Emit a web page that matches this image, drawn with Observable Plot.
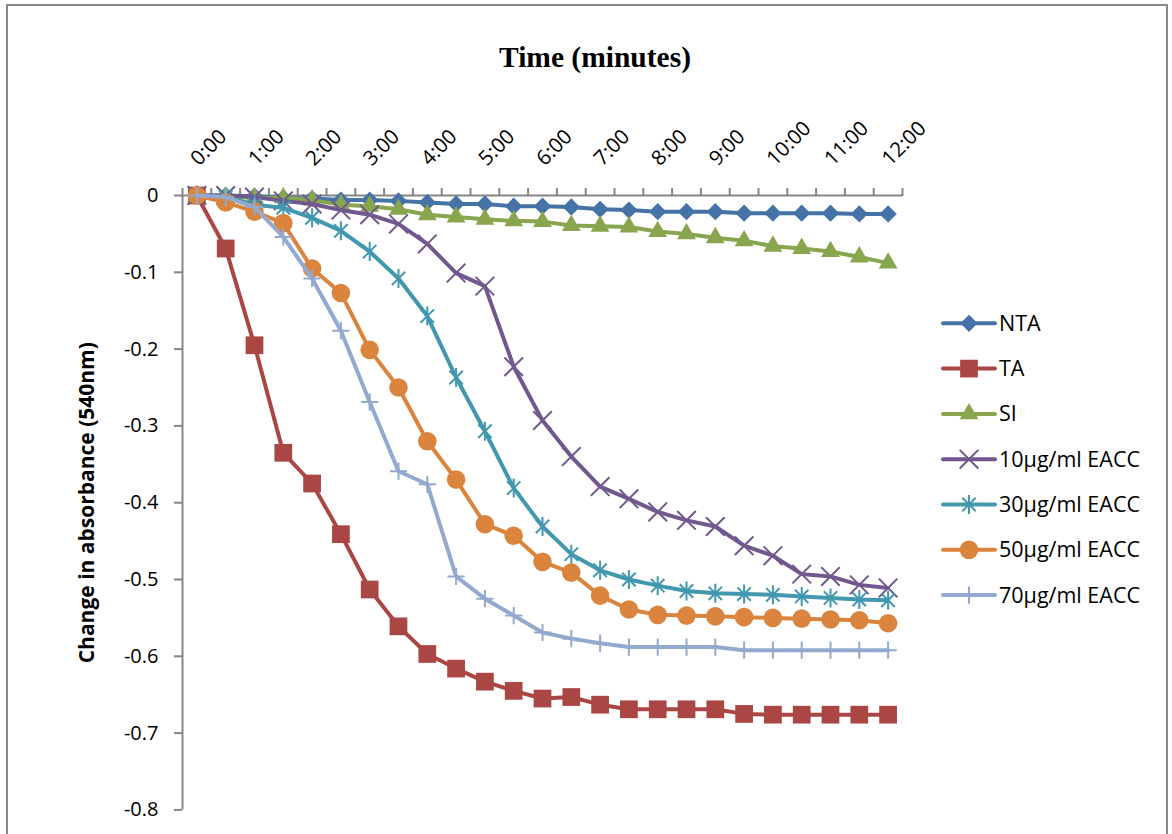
<!DOCTYPE html>
<html>
<head>
<meta charset="utf-8">
<script src="https://cdn.jsdelivr.net/npm/d3@7"></script>
<script src="https://cdn.jsdelivr.net/npm/@observablehq/plot@0.6"></script>
<style>
  body { margin: 0; width: 1172px; height: 834px; overflow: hidden; background: #fff; position: relative; font-family: "Open Sans", sans-serif; }
  #frame { position: absolute; left: 6px; top: 4px; width: 1162px; height: 900px; border: 2px solid #8a8a8a; box-sizing: border-box; }
  #chart { position: absolute; left: 0; top: 0; }
  #title { position: absolute; left: 395px; width: 400px; top: 43px; text-align: center; font: bold 29.5px "Liberation Serif", serif; line-height: 29px; color: #000; }
  #legend { position: absolute; left: 0; top: 0; }
</style>
</head>
<body>
<div id="frame"></div>
<div id="title">Time (minutes)</div>
<div id="chart"></div>
<svg id="legend" width="1172" height="834"></svg>
<script>
// Readings every 30 s over 12 minutes
const minutes = [0, 0.5, 1, 1.5, 2, 2.5, 3, 3.5, 4, 4.5, 5, 5.5, 6, 6.5, 7, 7.5, 8, 8.5, 9, 9.5, 10, 10.5, 11, 11.5, 12];

// Change in absorbance at 540 nm for each treatment
const nta    = [0, 0, -0.001, -0.003, -0.004, -0.006, -0.006, -0.007, -0.009, -0.011, -0.011, -0.014, -0.014, -0.015, -0.018, -0.019, -0.021, -0.021, -0.021, -0.023, -0.023, -0.023, -0.023, -0.024, -0.024];
const ta     = [0, -0.069, -0.195, -0.335, -0.375, -0.441, -0.513, -0.561, -0.597, -0.616, -0.633, -0.645, -0.655, -0.653, -0.663, -0.669, -0.669, -0.669, -0.669, -0.675, -0.676, -0.676, -0.676, -0.676, -0.676];
const si     = [0, -0.002, -0.003, -0.003, -0.006, -0.012, -0.014, -0.018, -0.025, -0.028, -0.031, -0.033, -0.034, -0.039, -0.040, -0.041, -0.047, -0.050, -0.055, -0.059, -0.066, -0.069, -0.073, -0.080, -0.088];
const eacc10 = [0, 0, -0.002, -0.007, -0.011, -0.019, -0.025, -0.037, -0.063, -0.101, -0.118, -0.223, -0.293, -0.340, -0.379, -0.395, -0.412, -0.423, -0.431, -0.456, -0.469, -0.493, -0.496, -0.507, -0.511];
const eacc30 = [0, -0.002, -0.012, -0.016, -0.029, -0.046, -0.073, -0.108, -0.157, -0.237, -0.307, -0.381, -0.431, -0.467, -0.488, -0.500, -0.508, -0.515, -0.518, -0.519, -0.520, -0.522, -0.524, -0.526, -0.527];
const eacc50 = [0, -0.009, -0.021, -0.036, -0.095, -0.127, -0.201, -0.250, -0.320, -0.370, -0.428, -0.443, -0.477, -0.491, -0.521, -0.539, -0.546, -0.547, -0.548, -0.549, -0.550, -0.551, -0.552, -0.553, -0.557];
const eacc70 = [0, -0.002, -0.015, -0.054, -0.108, -0.176, -0.269, -0.359, -0.376, -0.496, -0.525, -0.547, -0.569, -0.577, -0.583, -0.588, -0.588, -0.588, -0.588, -0.592, -0.592, -0.592, -0.592, -0.592, -0.592];

const seriesNames  = ["NTA", "TA", "SI", "10µg/ml EACC", "30µg/ml EACC", "50µg/ml EACC", "70µg/ml EACC"];
const seriesValues = [nta, ta, si, eacc10, eacc30, eacc50, eacc70];

// Axis labels
const tickLabels   = ["0:00", "1:00", "2:00", "3:00", "4:00", "5:00", "6:00", "7:00", "8:00", "9:00", "10:00", "11:00", "12:00"];
const labelMinutes = [0, 1, 2, 3, 4, 5, 6, 7, 8, 9, 10, 11, 12];
const yTicks       = [0, -0.1, -0.2, -0.3, -0.4, -0.5, -0.6, -0.7, -0.8];
const yTickLabels  = ["0", "-0.1", "-0.2", "-0.3", "-0.4", "-0.5", "-0.6", "-0.7", "-0.8"];

// Six-armed star marker (an X crossed by a vertical stroke)
const star6 = {
  draw(ctx, size) {
    const r = Math.sqrt(size / Math.PI);
    const d = r * Math.SQRT1_2;
    ctx.moveTo(0, -r); ctx.lineTo(0, r);
    ctx.moveTo(-d, -d); ctx.lineTo(d, d);
    ctx.moveTo(-d, d); ctx.lineTo(d, -d);
  }
};

// Per-series look: colour, marker shape, marker radius, filled or stroked
const looks = [
  {color: "#4572A7", symbol: d3.symbolDiamond2, r: 7.8, filled: true},
  {color: "#AA4643", symbol: d3.symbolSquare,   r: 10,  filled: true},
  {color: "#89A54E", symbol: d3.symbolTriangle, r: 7,   filled: true},
  {color: "#71588F", symbol: d3.symbolTimes,    r: 8.5, filled: false},
  {color: "#4198AF", symbol: star6,             r: 9.5, filled: false},
  {color: "#DB843D", symbol: d3.symbolCircle,   r: 9.3, filled: true},
  {color: "#93A9CF", symbol: d3.symbolPlus,     r: 5.6, filled: false}
];

// Band edges between readings carry the small axis ticks
const bandEdges = minutes.map(m => m - 0.25).concat([minutes[minutes.length - 1] + 0.25]);

const rows = seriesNames.map((name, s) => minutes.map((m, i) => ({series: name, minute: m, value: seriesValues[s][i]})));

const axisGray = "#868686";
const seriesMarks = rows.flatMap((data, s) => {
  const L = looks[s];
  return [
    Plot.line(data, {x: "minute", y: "value", stroke: L.color, strokeWidth: 4, strokeLinejoin: "round"}),
    Plot.dot(data, {
      x: "minute", y: "value", symbol: L.symbol, r: L.r,
      fill: L.filled ? L.color : "none",
      stroke: L.filled ? "none" : L.color,
      strokeWidth: L.filled ? 0 : 2
    })
  ];
});

const yLabelMap = new Map(yTicks.map((t, i) => [t, yTickLabels[i]]));

const chart = Plot.plot({
  width: 1172,
  height: 834,
  marginLeft: 182,
  marginRight: 270,
  marginTop: 195,
  marginBottom: 24.6,
  x: {domain: [bandEdges[0], bandEdges[bandEdges.length - 1]], axis: null},
  y: {domain: [-0.8, 0], axis: null},
  style: {fontFamily: "'Open Sans', sans-serif", fontSize: "20px", color: "#000", background: "transparent", overflow: "visible"},
  marks: [
    Plot.axisY({ticks: yTicks, tickFormat: d => yLabelMap.get(d), tickSize: 8, tickPadding: 16,
      stroke: axisGray, strokeWidth: 2, fontSize: 20, label: null}),
    Plot.axisX({ticks: bandEdges, anchor: "top", tickFormat: () => "", tickSize: 8,
      stroke: axisGray, strokeWidth: 2, label: null}),
    Plot.ruleX([bandEdges[0]], {stroke: axisGray, strokeWidth: 2}),
    Plot.ruleY([0], {stroke: axisGray, strokeWidth: 2}),
    Plot.text(tickLabels, {
      x: (d, i) => labelMinutes[i], y: () => 0,
      text: d => d, rotate: -45, textAnchor: "start", lineAnchor: "middle",
      dx: -2.5, dy: -33.5, fontSize: 20.5, fill: "#000"
    }),
    ...seriesMarks,
    Plot.text(["Change in absorbance (540nm)"], {
      frameAnchor: "left", dx: -95, rotate: -90, text: d => d, textAnchor: "middle",
      fontSize: 21, fontWeight: "bold", fill: "#000"
    })
  ]
});
document.getElementById("chart").appendChild(chart);

// Legend on the right: line sample, marker, name
const legend = d3.select("#legend");
seriesNames.forEach((name, s) => {
  const L = looks[s];
  const y = 323.3 + s * 45.3;
  const g = legend.append("g");
  g.append("line").attr("x1", 943).attr("x2", 995).attr("y1", y).attr("y2", y)
    .attr("stroke", L.color).attr("stroke-width", 4).attr("stroke-linecap", "round");
  g.append("path")
    .attr("transform", `translate(969,${y})`)
    .attr("d", d3.symbol(L.symbol, Math.PI * L.r * L.r)())
    .attr("fill", L.filled ? L.color : "none")
    .attr("stroke", L.filled ? "none" : L.color)
    .attr("stroke-width", L.filled ? 0 : 2);
  g.append("text").attr("x", 999).attr("y", y).attr("dy", "0.35em")
    .attr("font-family", "'Open Sans', sans-serif").attr("font-size", 21.5).attr("fill", "#000")
    .text(name);
});
</script>
</body>
</html>
